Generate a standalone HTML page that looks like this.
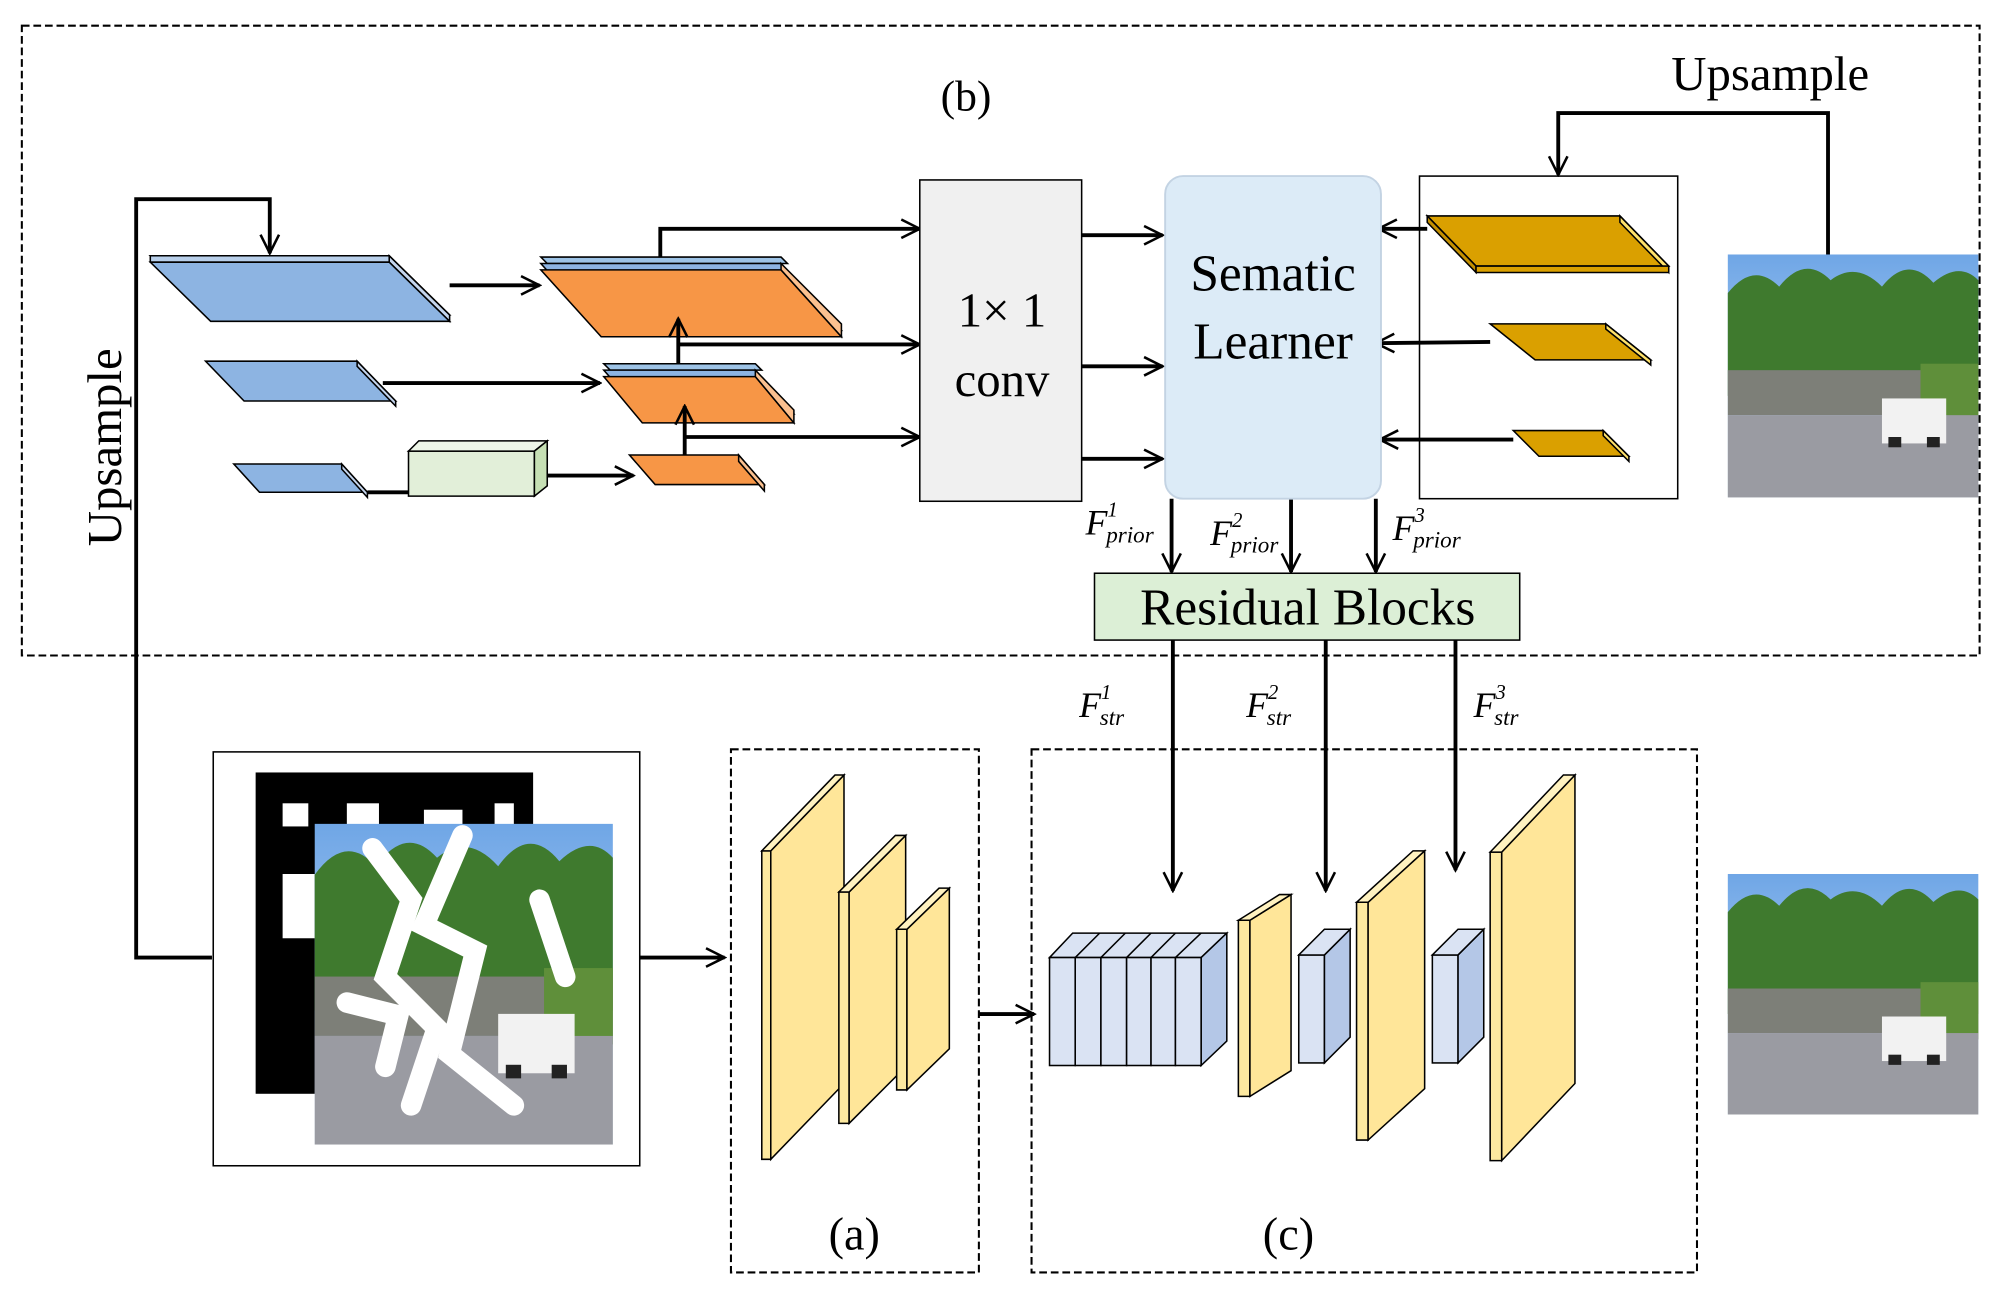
<!DOCTYPE html>
<html><head><meta charset="utf-8"><style>
html,body{margin:0;padding:0;background:#fff}
svg{display:block}
text{font-family:"Liberation Serif",serif;fill:#000}
</style></head><body>
<svg width="2013" height="1302" viewBox="0 0 1567 1013" preserveAspectRatio="none" xmlns="http://www.w3.org/2000/svg">
<defs>
<marker id="a2" viewBox="0 0 20 20" refX="18" refY="10" markerWidth="18" markerHeight="18" orient="auto" markerUnits="userSpaceOnUse">
<path d="M2,2 L18,10 L2,18" fill="none" stroke="#000" stroke-width="2.2"/></marker>
<linearGradient id="sky" x1="0" y1="0" x2="0" y2="1"><stop offset="0" stop-color="#6fa6e6"/><stop offset="1" stop-color="#d6e8f8"/></linearGradient>
<g id="photo">
<rect x="0" y="0" width="195" height="189" fill="url(#sky)"/>
<path d="M0,30 Q20,5 40,25 Q60,0 80,20 Q100,5 120,25 Q140,0 160,22 Q180,5 195,20 L195,110 L0,110 Z" fill="#3f7a2e"/>
<rect x="0" y="90" width="195" height="35" fill="#7d7f78"/>
<rect x="150" y="85" width="45" height="45" fill="#5f8f3a"/>
<rect x="0" y="125" width="195" height="64" fill="#9a9ba2"/>
<rect x="120" y="112" width="50" height="35" fill="#f2f2f2"/>
<rect x="125" y="142" width="10" height="8" fill="#222"/><rect x="155" y="142" width="10" height="8" fill="#222"/>
</g>
</defs>
<g fill="none" stroke="#000" stroke-width="1.6" stroke-dasharray="6,3">
<rect x="17" y="20" width="1524" height="490"/>
<rect x="569" y="583" width="193" height="407"/>
<rect x="803" y="583" width="518" height="407"/>
</g>
<text x="752" y="86" font-size="34" text-anchor="middle">(b)</text>
<text x="1378" y="70" font-size="38" text-anchor="middle">Upsample</text>
<text transform="translate(94,348) rotate(-90)" font-size="38" text-anchor="middle">Upsample</text>
<g fill="none" stroke="#000" stroke-width="3">
<path d="M165,745 L106,745 L106,155 L210,155 L210,197" marker-end="url(#a2)"/>
<path d="M1423,198 L1423,88 L1213,88 L1213,136" marker-end="url(#a2)"/>
</g>
<g stroke="#000" stroke-width="1.2">
<polygon points="117,199 303,199 350,245 164,245" fill="#8db4e2"/>
<polygon points="117,199 303,199 303,204 117,204" fill="#b8cfea"/>
<polygon points="303,199 350,245 350,250 303,204" fill="#c5d6ee"/>
<polygon points="117,204 303,204 350,250 164,250" fill="#8db4e2"/>
<polygon points="160,281 278,281 308,312 190,312" fill="#8db4e2"/>
<polygon points="278,281 308,312 308,316 278,285" fill="#c5d6ee"/>
<polygon points="182,361 266,361 286,383 202,383" fill="#8db4e2"/>
<polygon points="266,361 286,383 286,387 266,365" fill="#c5d6ee"/>
<polygon points="318,351 416,351 416,386 318,386" fill="#e2efd9"/>
<polygon points="318,351 326,343 426,343 416,351" fill="#eef6e8"/>
<polygon points="416,351 426,343 426,378 416,386" fill="#c6e0b4"/>
<polygon points="421,200 608,200 613,205 426,205" fill="#9dc3e6"/>
<polygon points="421,205 608,205 655,257 468,257" fill="#8db4e2"/>
<polygon points="421,210 608,210 655,262 468,262" fill="#f79646"/>
<polygon points="608,205 655,252 655,262 608,210" fill="#fbc08f"/>
<polygon points="470,283 588,283 593,288 475,288" fill="#9dc3e6"/>
<polygon points="470,288 588,288 618,322 500,322" fill="#8db4e2"/>
<polygon points="470,293 588,293 618,329 500,329" fill="#f79646"/>
<polygon points="588,288 618,319 618,329 588,293" fill="#fbc08f"/>
<polygon points="490,354 575,354 595,377 510,377" fill="#f79646"/>
<polygon points="575,354 595,377 595,382 575,359" fill="#fbc08f"/>
<polygon points="1111,168 1261,168 1299,207 1149,207" fill="#daa000"/>
<polygon points="1111,168 1149,207 1149,212 1111,173" fill="#c38f00"/>
<polygon points="1261,168 1299,207 1299,212 1261,173" fill="#ffe26b"/>
<polygon points="1149,207 1299,207 1299,212 1149,212" fill="#daa000"/>
<polygon points="1160,252 1250,252 1285,280 1195,280" fill="#daa000"/>
<polygon points="1250,252 1285,280 1285,284 1250,256" fill="#ffe26b"/>
<polygon points="1178,335 1248,335 1268,355 1198,355" fill="#daa000"/>
<polygon points="1248,335 1268,355 1268,359 1248,339" fill="#ffe26b"/>
</g>
<g fill="none" stroke="#000" stroke-width="3">
<path d="M350,222 L420,222" marker-end="url(#a2)"/>
<path d="M298,298 L467,298" marker-end="url(#a2)"/>
<path d="M286,383 L318,383"/>
<path d="M426,370 L493,370" marker-end="url(#a2)"/>
<path d="M528,283 L528,248" marker-end="url(#a2)"/>
<path d="M533,354 L533,316" marker-end="url(#a2)"/>
<path d="M514,200 L514,178 L716,178" marker-end="url(#a2)"/>
<path d="M528,268 L716,268" marker-end="url(#a2)"/>
<path d="M533,340 L716,340" marker-end="url(#a2)"/>
<path d="M842,183 L905,183" marker-end="url(#a2)"/>
<path d="M842,285 L905,285" marker-end="url(#a2)"/>
<path d="M842,357 L905,357" marker-end="url(#a2)"/>
<path d="M1111,178 L1073,178" marker-end="url(#a2)"/>
<path d="M1160,266 L1071,267" marker-end="url(#a2)"/>
<path d="M1178,342 L1074,342" marker-end="url(#a2)"/>
<path d="M912,388 L912,445" marker-end="url(#a2)"/>
<path d="M1005,388 L1005,445" marker-end="url(#a2)"/>
<path d="M1071,388 L1071,445" marker-end="url(#a2)"/>
<path d="M913,498 L913,693" marker-end="url(#a2)"/>
<path d="M1032,498 L1032,693" marker-end="url(#a2)"/>
<path d="M1133,498 L1133,677" marker-end="url(#a2)"/>
<path d="M498,745 L564,745" marker-end="url(#a2)"/>
<path d="M762,789 L805,789" marker-end="url(#a2)"/>
</g>
<rect x="716" y="140" width="126" height="250" fill="#f0f0f0" stroke="#000" stroke-width="1.2"/>
<text x="780" y="254" font-size="38" text-anchor="middle">1× 1</text>
<text x="780" y="308" font-size="38" text-anchor="middle">conv</text>
<rect x="907" y="137" width="168" height="251" rx="14" fill="#dcebf7" stroke="#c3d3e3" stroke-width="1.5"/>
<text x="991" y="226" font-size="40" text-anchor="middle">Sematic</text>
<text x="991" y="279" font-size="40" text-anchor="middle">Learner</text>
<rect x="1105" y="137" width="201" height="251" fill="none" stroke="#000" stroke-width="1.2"/>
<use href="#photo" x="1345" y="198"/>
<g font-style="italic" font-size="28">
<text x="845" y="416">F<tspan font-size="16" dy="-14">1</tspan><tspan font-size="18" dy="20" dx="-9">prior</tspan></text>
<text x="942" y="424">F<tspan font-size="16" dy="-14">2</tspan><tspan font-size="18" dy="20" dx="-9">prior</tspan></text>
<text x="1084" y="420">F<tspan font-size="16" dy="-14">3</tspan><tspan font-size="18" dy="20" dx="-9">prior</tspan></text>
<text x="840" y="558">F<tspan font-size="16" dy="-14">1</tspan><tspan font-size="18" dy="20" dx="-9">str</tspan></text>
<text x="970" y="558">F<tspan font-size="16" dy="-14">2</tspan><tspan font-size="18" dy="20" dx="-9">str</tspan></text>
<text x="1147" y="558">F<tspan font-size="16" dy="-14">3</tspan><tspan font-size="18" dy="20" dx="-9">str</tspan></text>
</g>
<rect x="852" y="446" width="331" height="52" fill="#dcefd6" stroke="#000" stroke-width="1.2"/>
<text x="1018" y="486" font-size="40" text-anchor="middle">Residual Blocks</text>
<rect x="166" y="585" width="332" height="322" fill="#fff" stroke="#000" stroke-width="1.2"/>
<rect x="199" y="601" width="216" height="250" fill="#000"/>
<g fill="#fff"><rect x="220" y="625" width="20" height="18"/><rect x="270" y="625" width="25" height="20"/><rect x="330" y="630" width="30" height="15"/><rect x="385" y="625" width="15" height="20"/><rect x="220" y="680" width="25" height="50"/></g>
<use href="#photo" x="245" y="641" transform="translate(245,641) scale(1.19,1.32) translate(-245,-641)"/>
<g fill="none" stroke="#fff" stroke-width="16" stroke-linecap="round">
<path d="M290,660 L320,700 L300,760 L340,800 L320,860"/>
<path d="M360,650 L330,720 L370,740 L350,820 L400,860"/>
<path d="M270,780 L310,790 L300,830"/>
<path d="M420,700 L440,760"/>
</g>
<g stroke="#000" stroke-width="1.2">
<polygon points="593,662 600,662 600,902 593,902" fill="#fde9a0"/>
<polygon points="600,662 657,603 657,843 600,902" fill="#ffe699"/>
<polygon points="593,662 650,603 657,603 600,662" fill="#fff2c0"/>
<polygon points="653,694 661,694 661,874 653,874" fill="#fde9a0"/>
<polygon points="661,694 705,650 705,830 661,874" fill="#ffe699"/>
<polygon points="653,694 697,650 705,650 661,694" fill="#fff2c0"/>
<polygon points="698,723 706,723 706,848 698,848" fill="#fde9a0"/>
<polygon points="706,723 739,691 739,816 706,848" fill="#ffe699"/>
<polygon points="698,723 731,691 739,691 706,723" fill="#fff2c0"/>
</g>
<text x="665" y="972" font-size="36" text-anchor="middle">(a)</text>
<g stroke="#000" stroke-width="1.2">
<polygon points="817,745 835,726 955,726 935,745" fill="#dae3f3"/>
<polygon points="935,745 955,726 955,810 935,829" fill="#b4c7e7"/>
<rect x="817" y="745" width="20" height="84" fill="#dae3f3"/>
<rect x="837" y="745" width="20" height="84" fill="#dae3f3"/>
<rect x="857" y="745" width="20" height="84" fill="#dae3f3"/>
<rect x="877" y="745" width="19" height="84" fill="#dae3f3"/>
<rect x="896" y="745" width="19" height="84" fill="#dae3f3"/>
<rect x="915" y="745" width="20" height="84" fill="#dae3f3"/>
<path d="M837,745 L856,726 M857,745 L876,726 M877,745 L896,726 M896,745 L915,726 M915,745 L935,726" fill="none"/>
<polygon points="964,716 973,716 973,853 964,853" fill="#fde9a0"/>
<polygon points="973,716 1005,696 1005,833 973,853" fill="#ffe699"/>
<polygon points="964,716 996,696 1005,696 973,716" fill="#fff2c0"/>
<rect x="1011" y="743" width="20" height="84" fill="#dae3f3"/>
<polygon points="1031,743 1051,723 1051,807 1031,827" fill="#b4c7e7"/>
<polygon points="1011,743 1031,723 1051,723 1031,743" fill="#dae3f3"/>
<polygon points="1056,702 1065,702 1065,887 1056,887" fill="#fde9a0"/>
<polygon points="1065,702 1109,662 1109,847 1065,887" fill="#ffe699"/>
<polygon points="1056,702 1100,662 1109,662 1065,702" fill="#fff2c0"/>
<rect x="1115" y="743" width="20" height="84" fill="#dae3f3"/>
<polygon points="1135,743 1155,723 1155,807 1135,827" fill="#b4c7e7"/>
<polygon points="1115,743 1135,723 1155,723 1135,743" fill="#dae3f3"/>
<polygon points="1160,663 1169,663 1169,903 1160,903" fill="#fde9a0"/>
<polygon points="1169,663 1226,603 1226,843 1169,903" fill="#ffe699"/>
<polygon points="1160,663 1217,603 1226,603 1169,663" fill="#fff2c0"/>
</g>
<text x="1003" y="972" font-size="36" text-anchor="middle">(c)</text>
<use href="#photo" x="1345" y="680" transform="translate(1345,680) scale(1,0.99) translate(-1345,-680)"/>
</svg>
</body></html>
